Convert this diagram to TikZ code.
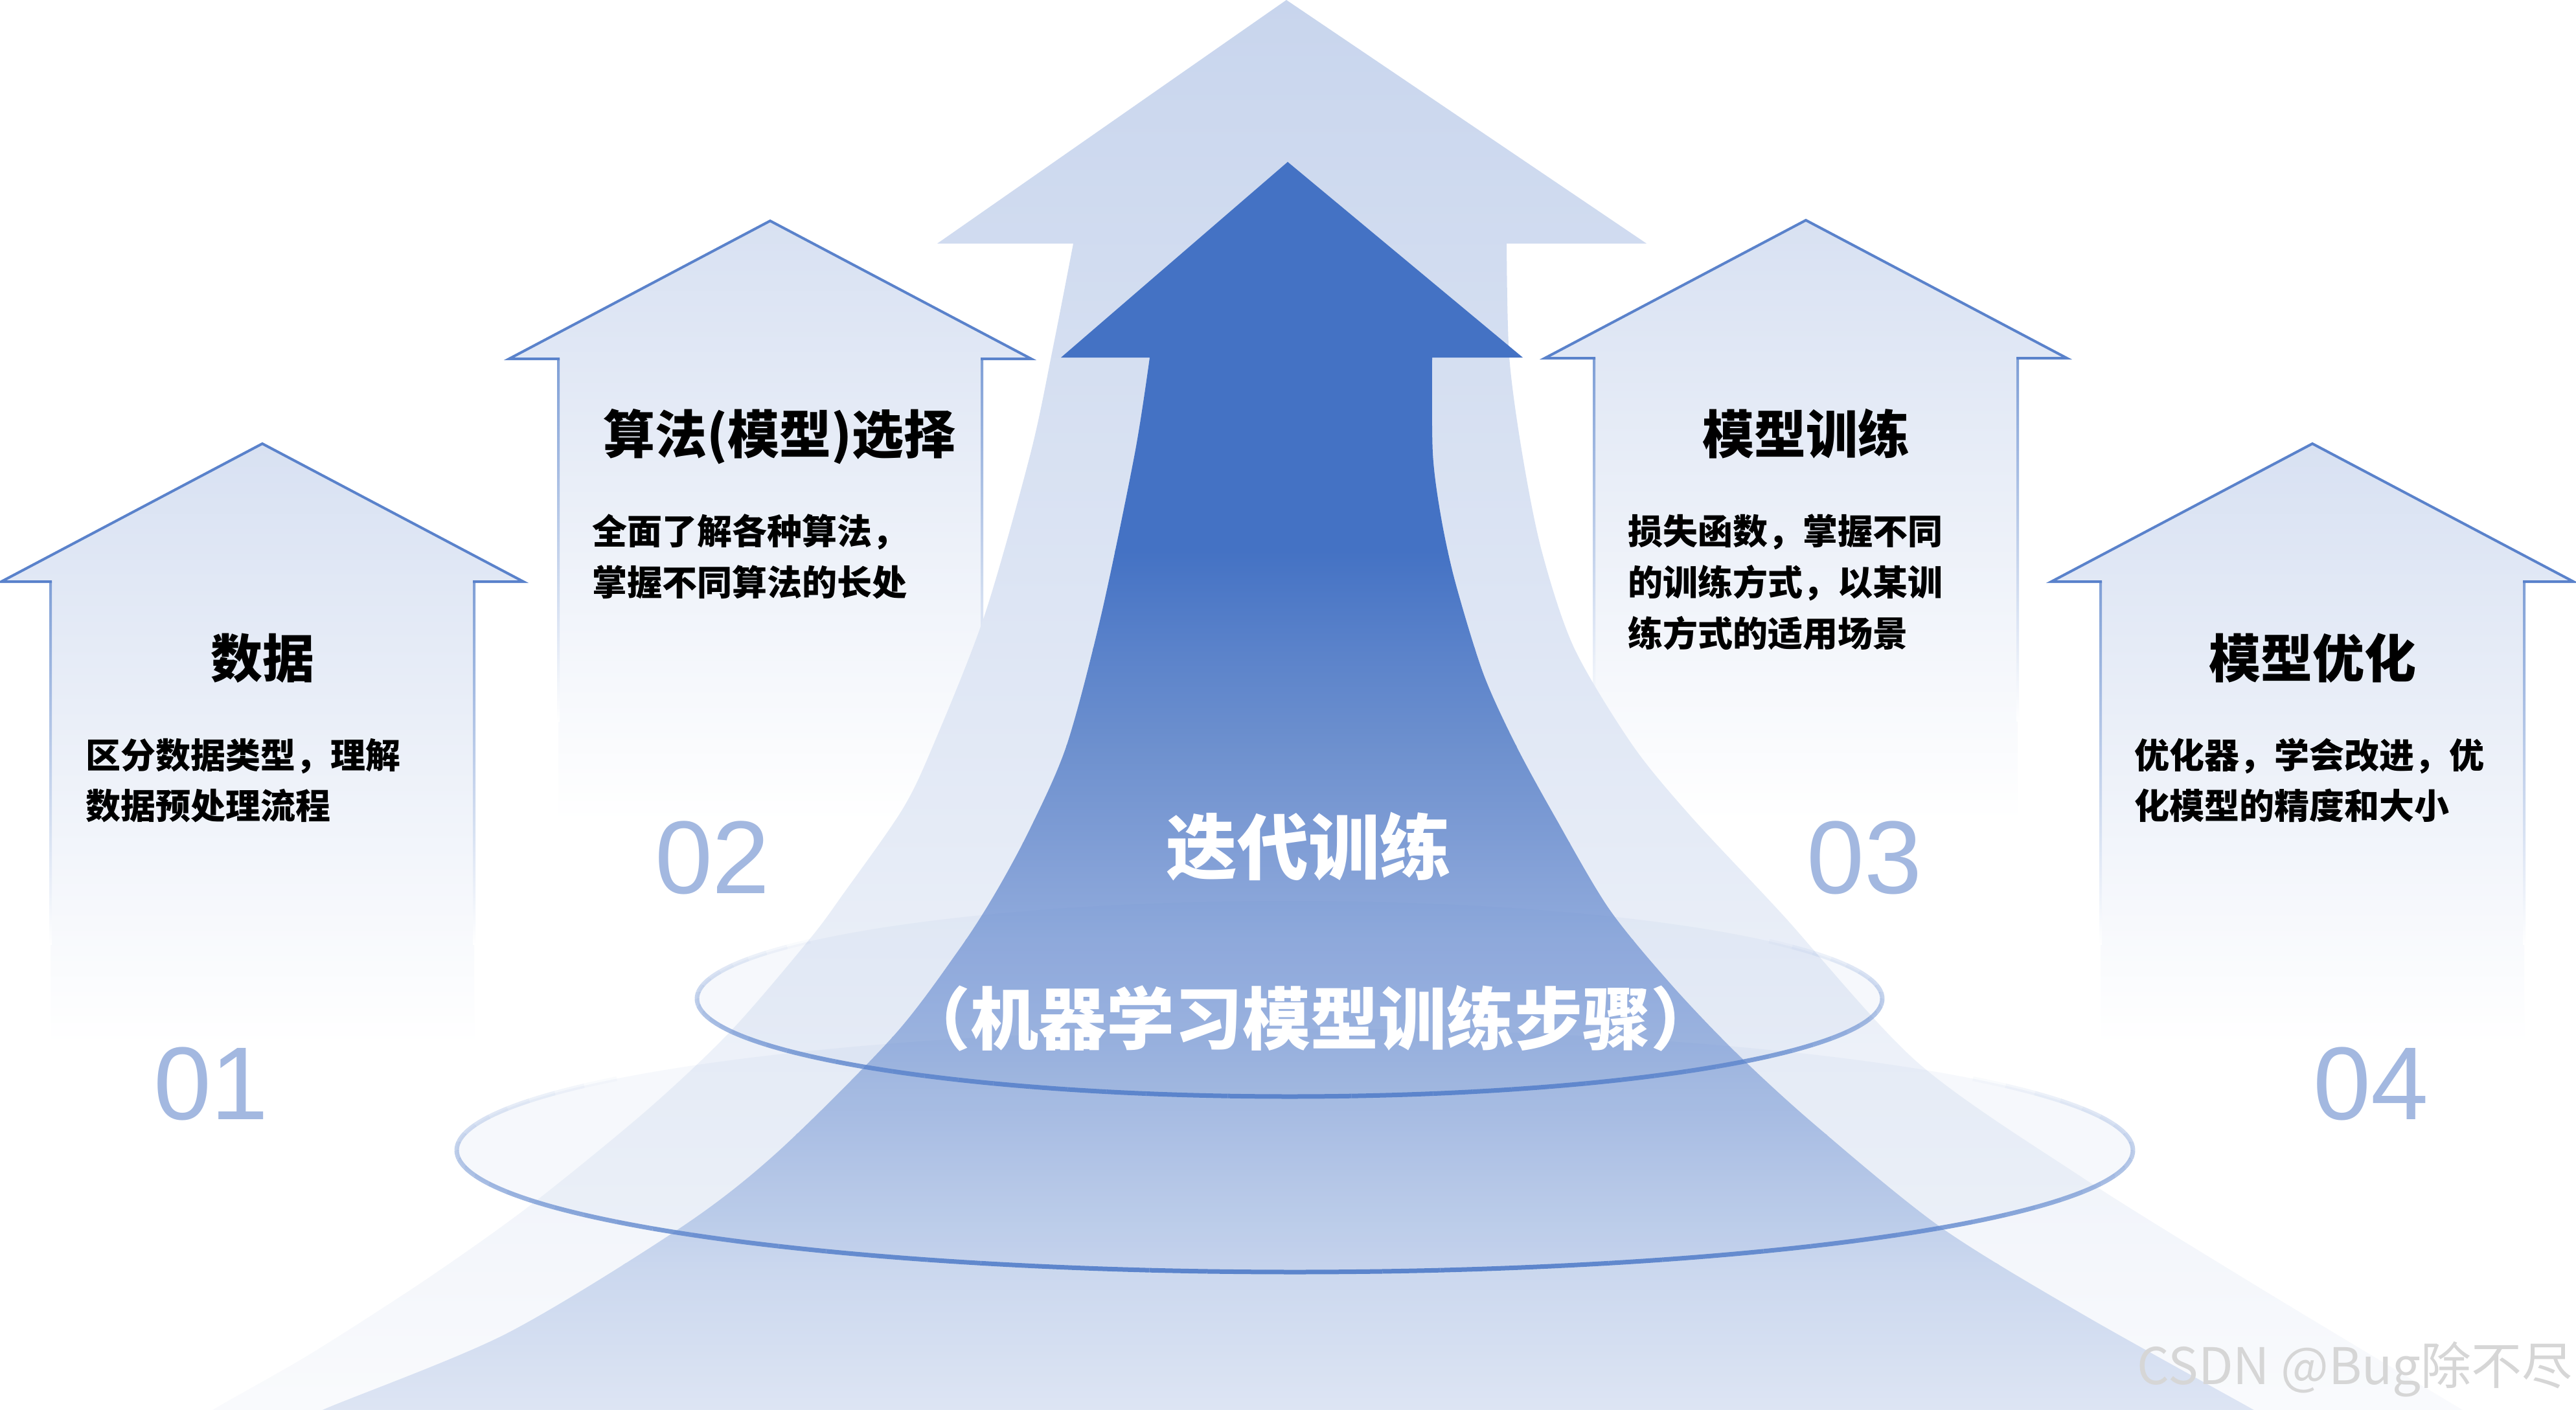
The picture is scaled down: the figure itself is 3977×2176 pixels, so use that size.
\documentclass[tikz,border=0pt]{standalone}
\usepackage{fontspec}
\newfontfamily\cjk{Noto Sans CJK SC}
\newfontfamily\digitfont{Liberation Sans}
\definecolor{arrowblue}{HTML}{4472C4}
\definecolor{edgeblue}{HTML}{5A82CB}
\definecolor{sideblue}{HTML}{7F9FD6}
\definecolor{boxtop}{HTML}{D8E1F2}
\definecolor{boxmid}{HTML}{F0F3FA}
\definecolor{numblue}{HTML}{A3B8E0}
\definecolor{lighttop}{HTML}{C8D5ED}
\definecolor{lightmid}{HTML}{E1E8F5}
\definecolor{lightbot}{HTML}{FAFBFD}
\definecolor{ringblue}{HTML}{5B84CC}
\definecolor{wmgray}{HTML}{D6D6D6}
\definecolor{dkA}{HTML}{4472C4}
\definecolor{dkB}{HTML}{5A82CA}
\definecolor{dkC}{HTML}{6D90CE}
\definecolor{dkD}{HTML}{7F9DD5}
\definecolor{dkE}{HTML}{91ABDC}
\definecolor{dkF}{HTML}{9EB5E0}
\definecolor{dkG}{HTML}{B0C3E6}
\definecolor{dkH}{HTML}{CAD7EE}
\definecolor{dkI}{HTML}{DFE6F4}
\tikzset{
  boxline/.style={draw=edgeblue, line width=4pt, line join=miter},
  ringline/.style={draw=ringblue, line width=7pt, line cap=butt},
  titletext/.style={font={\cjk\bfseries\fontsize{80}{90}\selectfont}, text=black, inner sep=0pt, anchor=base},
  bodytext/.style={font={\cjk\bfseries\fontsize{54}{64}\selectfont}, text=black, inner sep=0pt, anchor=base west},
  numtext/.style={font={\digitfont\fontsize{160}{170}\selectfont}, text=numblue, inner sep=0pt, anchor=base},
  maintext/.style={font={\cjk\bfseries\fontsize{110}{120}\selectfont}, text=white, inner sep=0pt, anchor=base},
  subtext/.style={font={\cjk\bfseries\fontsize{105}{115}\selectfont}, text=white, inner sep=0pt, anchor=base},
  wmtext/.style={font={\cjk\fontsize{78}{90}\selectfont}, text=wmgray, inner sep=0pt, anchor=base east}
}
\newcommand{\drawupbox}[2]{%
  \pgfmathsetmacro\bxc{#1}%
  \pgfmathsetmacro\bxa{#2}%
  \pgfmathsetmacro\bxw{#2+213}%
  \pgfmathsetmacro\bxb{#2+213+717}%
  \pgfmathsetmacro\bxl{#2+213+560}%
  \shade[top color=boxtop, middle color=boxmid, bottom color=white]
    (\bxc,\bxa) -- (\bxc+403,\bxw) -- (\bxc+327,\bxw) -- (\bxc+327,\bxb)
    -- (\bxc-327,\bxb) -- (\bxc-327,\bxw) -- (\bxc-403,\bxw) -- cycle;
  \shade[top color=sideblue, bottom color=white] (\bxc-329,\bxw) rectangle (\bxc-325,\bxl);
  \shade[top color=sideblue, bottom color=white] (\bxc+325,\bxw) rectangle (\bxc+329,\bxl);
  \draw[boxline] (\bxc-325,\bxw) -- (\bxc-403,\bxw) -- (\bxc,\bxa) -- (\bxc+403,\bxw) -- (\bxc+325,\bxw);
}
\begin{document}
\begin{tikzpicture}[x=1pt,y=-1pt]
\useasboundingbox (0,0) rectangle (3977,2176);
\fill[white] (0,0) rectangle (3977,2176);

% four step boxes
\drawupbox{405}{685}
\drawupbox{1189}{341}
\drawupbox{2788}{340}
\drawupbox{3570}{685}

% big light arrow
\shade[top color=lighttop, middle color=lightmid, bottom color=lightbot]
  (1986,0) -- (2542,376) -- (2326,376)
  -- plot[smooth] coordinates {(2326,376) (2330,550) (2350,700) (2380,850) (2430,1000) (2520,1150) (2610,1260) (2750,1410) (2960,1640) (3210,1815) (3478,1982) (3800,2176) (3840,2200)}
  -- (300,2200)
  -- plot[smooth] coordinates {(300,2200) (330,2176) (480,2090) (660,1974) (820,1860) (1000,1713) (1130,1590) (1250,1450) (1302,1380) (1393,1250) (1441,1150) (1520,950) (1591,700) (1625,540) (1657,376)}
  -- (1447,376) -- cycle;

% dark arrow
\begin{scope}
\clip (1988,250) -- (2351,552) -- (2211,552)
  -- plot[smooth] coordinates {(2211,552) (2212,700) (2225,800) (2247,900) (2290,1040) (2340,1150) (2400,1260) (2484,1403) (2580,1520) (2680,1625) (2800,1735) (2995,1894) (3215,2029) (3478,2176) (3520,2200)}
  -- (460,2200)
  -- plot[smooth] coordinates {(460,2200) (500,2176) (780,2060) (1050,1896) (1199,1780) (1379,1600) (1480,1467) (1536,1380) (1590,1280) (1647,1150) (1700,950) (1752,700) (1775,552)}
  -- (1638,552) -- cycle;
\fill[dkA] (300,240) rectangle (3700,852);
\shade[top color=dkA, bottom color=dkB] (300,850) rectangle (3700,1002);
\shade[top color=dkB, bottom color=dkC] (300,1000) rectangle (3700,1152);
\shade[top color=dkC, bottom color=dkD] (300,1150) rectangle (3700,1302);
\shade[top color=dkD, bottom color=dkE] (300,1300) rectangle (3700,1452);
\shade[top color=dkE, bottom color=dkF] (300,1450) rectangle (3700,1602);
\shade[top color=dkF, bottom color=dkG] (300,1600) rectangle (3700,1752);
\shade[top color=dkG, bottom color=dkH] (300,1750) rectangle (3700,1952);
\shade[top color=dkH, bottom color=dkI] (300,1950) rectangle (3700,2200);
\end{scope}

% rings
\fill[ringblue, fill opacity=0.05] (1999,1776) ellipse [x radius=1294, y radius=188];
\fill[ringblue, fill opacity=0.05] (1991,1542) ellipse [x radius=915, y radius=151];
\foreach \t in {0,4,...,356}{
  \pgfmathsetmacro\op{max(0,0.38+0.62*sin(\t+2))}
  \draw[ringline, draw opacity=\op] plot[domain=\t:\t+4, samples=4, variable=\u] ({1999+1294*cos(\u)},{1776+188*sin(\u)});
  \draw[ringline, draw opacity=\op] plot[domain=\t:\t+4, samples=4, variable=\u] ({1991+915*cos(\u)},{1542+151*sin(\u)});
}

% box texts
\node[titletext] (t1) at (405,1046) {数据};
\node[bodytext] (b1a) at (132,1186) {区分数据类型，理解};
\node[bodytext] (b1b) at (132,1264) {数据预处理流程};
\node[numtext] (n1) at (326,1728) {01};

\node[titletext] (t2) at (1203,700) {算法(模型)选择};
\node[bodytext] (b2a) at (914,840) {全面了解各种算法，};
\node[bodytext] (b2b) at (914,919) {掌握不同算法的长处};
\node[numtext] (n2) at (1100,1379) {02};

\node[titletext] (t3) at (2788,700) {模型训练};
\node[bodytext] (b3a) at (2513,840) {损失函数，掌握不同};
\node[bodytext] (b3b) at (2513,919) {的训练方式，以某训};
\node[bodytext] (b3c) at (2513,998) {练方式的适用场景};
\node[numtext] (n3) at (2878,1379) {03};

\node[titletext] (t4) at (3570,1046) {模型优化};
\node[bodytext] (b4a) at (3295,1186) {优化器，学会改进，优};
\node[bodytext] (b4b) at (3295,1264) {化模型的精度和大小};
\node[numtext] (n4) at (3660,1728) {04};

% central texts
\node[maintext] (m1) at (2020,1349) {迭代训练};
\node[subtext] (m2) at (2023,1612) {（机器学习模型训练步骤）};

% watermark
\node[wmtext] (wm) at (3972,2137) {CSDN @Bug除不尽};
\end{tikzpicture}
\end{document}
